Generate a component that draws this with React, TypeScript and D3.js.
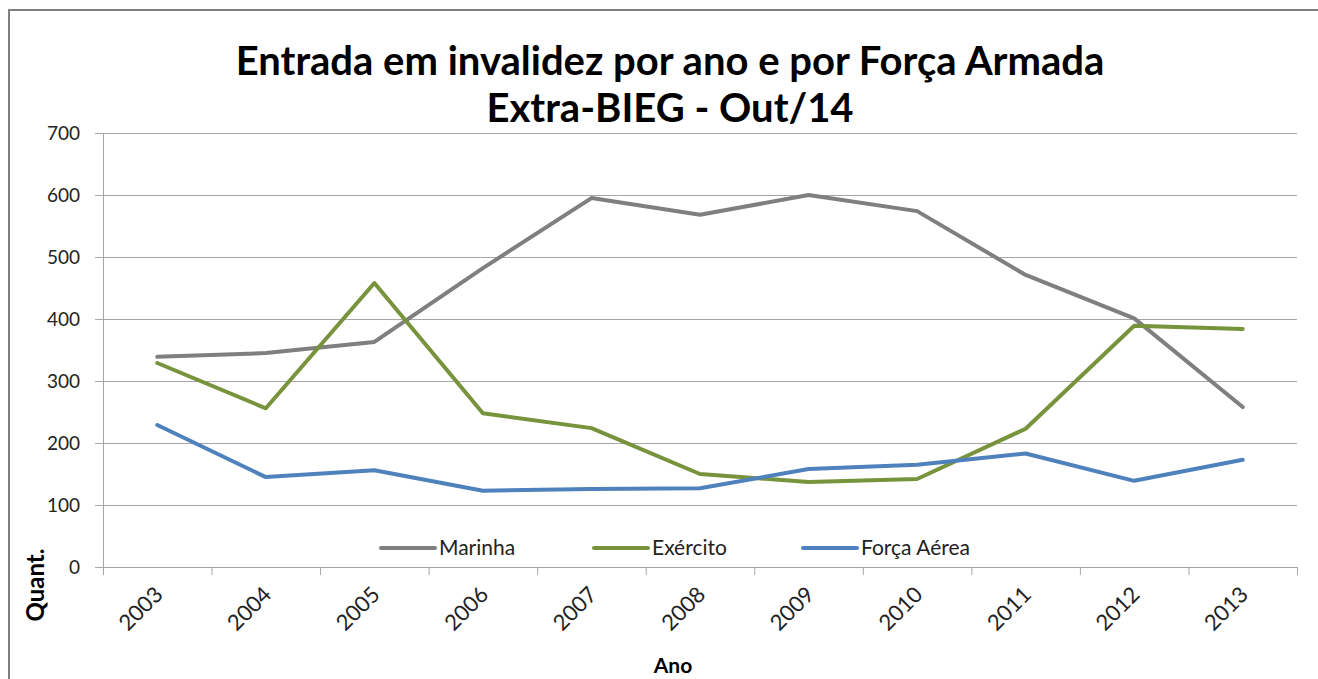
import React, { useEffect, useRef } from "react";
import * as d3 from "d3";

const years = ["2003", "2004", "2005", "2006", "2007", "2008", "2009", "2010", "2011", "2012", "2013"];
const marinha = [339, 345, 363, 482, 595, 568, 600, 574, 471, 401, 258];
const exercito = [329, 256, 458, 248, 224, 150, 137, 142, 223, 389, 384];
const forcaAerea = [229, 145, 156, 123, 126, 127, 158, 165, 183, 139, 173];
const yTicks = [0, 100, 200, 300, 400, 500, 600, 700];

const series = [
  { name: "Marinha", values: marinha, color: "#7f7f7f" },
  { name: "Exército", values: exercito, color: "#77933c" },
  { name: "Força Aérea", values: forcaAerea, color: "#4f81bd" },
];

const font = "Lato, 'Open Sans', sans-serif";

const App = () => {
  const ref = useRef<SVGSVGElement>(null);

  useEffect(() => {
    const svg = d3.select(ref.current);
    svg.selectAll("*").remove();

    const left = 103, right = 1297, top = 133, bottom = 567;

    const x = d3.scalePoint<string>().domain(years).range([left, right]).padding(0.5);
    const y = d3.scaleLinear().domain([0, 700]).range([bottom, top]);

    svg.append("rect").attr("width", 1318).attr("height", 679).attr("fill", "#fff");
    // chart frame (only top and left edges are visible)
    svg
      .append("path")
      .attr("d", "M9,679 V10 H1318")
      .attr("fill", "none")
      .attr("stroke", "#808080")
      .attr("stroke-width", 2);

    // gridlines
    svg
      .append("g")
      .selectAll("line")
      .data(yTicks)
      .join("line")
      .attr("x1", left - 8)
      .attr("x2", right)
      .attr("y1", (d) => y(d) + 0.5)
      .attr("y2", (d) => y(d) + 0.5)
      .attr("stroke", "#a6a6a6")
      .attr("stroke-width", 1);

    // y axis line
    svg
      .append("line")
      .attr("x1", left + 0.5)
      .attr("x2", left + 0.5)
      .attr("y1", top)
      .attr("y2", bottom)
      .attr("stroke", "#a6a6a6");

    // x axis ticks
    const bw = (right - left) / years.length;
    svg
      .append("g")
      .selectAll("line")
      .data(d3.range(years.length + 1))
      .join("line")
      .attr("x1", (i) => left + i * bw + 0.5)
      .attr("x2", (i) => left + i * bw + 0.5)
      .attr("y1", bottom)
      .attr("y2", bottom + 8)
      .attr("stroke", "#a6a6a6");

    // y labels
    svg
      .append("g")
      .selectAll("text")
      .data(yTicks)
      .join("text")
      .attr("x", 80)
      .attr("y", (d) => y(d))
      .attr("dy", "0.35em")
      .attr("text-anchor", "end")
      .attr("font-family", font)
      .attr("font-size", 19)
      .attr("fill", "#222")
      .text((d) => d);

    // x labels
    svg
      .append("g")
      .selectAll("text")
      .data(years)
      .join("text")
      .attr("transform", (d) => `translate(${x(d)! - 4},${bottom + 18}) rotate(-45)`)
      .attr("text-anchor", "end")
      .attr("dy", "0.7em")
      .attr("font-family", font)
      .attr("font-size", 22)
      .attr("fill", "#222")
      .text((d) => d);

    const line = d3
      .line<number>()
      .x((_, i) => x(years[i])!)
      .y((d) => y(d));

    series.forEach((s) => {
      svg
        .append("path")
        .datum(s.values)
        .attr("d", line)
        .attr("fill", "none")
        .attr("stroke", s.color)
        .attr("stroke-width", 4)
        .attr("stroke-linejoin", "round")
        .attr("stroke-linecap", "round");
    });

    // legend
    const legendX = [381, 594, 803];
    series.forEach((s, i) => {
      const g = svg.append("g").attr("transform", `translate(${legendX[i]},548)`);
      g.append("line")
        .attr("x1", 0)
        .attr("x2", 54)
        .attr("stroke", s.color)
        .attr("stroke-width", 4)
        .attr("stroke-linecap", "round");
      g.append("text")
        .attr("x", 58)
        .attr("dy", "0.35em")
        .attr("font-family", font)
        .attr("font-size", 21)
        .attr("fill", "#222")
        .text(s.name);
    });

    // title
    const title = svg
      .append("text")
      .attr("text-anchor", "middle")
      .attr("font-family", font)
      .attr("font-weight", "bold")
      .attr("font-size", 40)
      .attr("fill", "#000");
    title.append("tspan").attr("x", 670).attr("y", 75).text("Entrada em invalidez por ano e por Força Armada");
    title.append("tspan").attr("x", 670).attr("y", 122).text("Extra-BIEG - Out/14");

    // axis titles
    svg
      .append("text")
      .attr("x", 673)
      .attr("y", 673)
      .attr("text-anchor", "middle")
      .attr("font-family", font)
      .attr("font-weight", "bold")
      .attr("font-size", 21)
      .text("Ano");
    svg
      .append("text")
      .attr("transform", "translate(36,585) rotate(-90)")
      .attr("text-anchor", "middle")
      .attr("dy", "0.35em")
      .attr("font-family", font)
      .attr("font-weight", "bold")
      .attr("font-size", 24)
      .text("Quant.");
  }, []);

  return <svg ref={ref} width={1318} height={679} style={{ position: "absolute", left: 0, top: 0 }} />;
};

export default App;
